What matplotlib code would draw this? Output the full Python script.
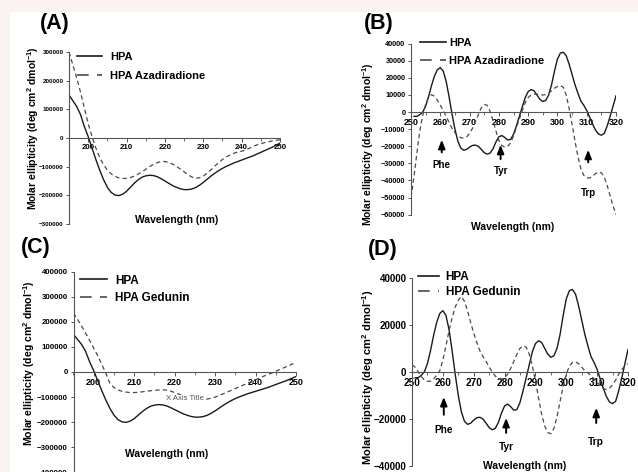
import numpy as np
import matplotlib
matplotlib.use("Agg")
import matplotlib.pyplot as plt
from matplotlib.lines import Line2D
from matplotlib.patches import Rectangle

plt.rcParams["font.family"] = ["Liberation Sans", "DejaVu Sans"]
plt.rcParams["font.weight"] = "bold"
plt.rcParams["mathtext.fontset"] = "custom"
plt.rcParams["mathtext.rm"] = "Liberation Sans:bold"
plt.rcParams["mathtext.bf"] = "Liberation Sans:bold"

W, H = 638, 472

# ---- far-UV CD (195-250 nm) ----
wl_far = list(range(195, 251))
hpa_far = [150000, 130000, 110000, 82000, 40000, 5000, -35000, -75000, -112000, -145000,
           -172000, -190000, -199000, -201000, -196000, -186000, -172000, -158000, -146000, -137000,
           -132000, -130000, -131000, -135000, -142000, -150000, -158000, -166000, -172000, -177000,
           -180000, -180000, -178000, -173000, -165000, -155000, -144000, -133000, -123000, -114000,
           -106000, -99000, -93000, -87000, -82000, -77000, -72000, -67000, -62000, -56000,
           -50000, -44000, -38000, -32000, -25000, -18000]
hpa_aza_far = [300000, 255000, 210000, 160000, 105000, 50000, 5000, -35000, -68000, -93000,
               -112000, -125000, -134000, -139000, -141000, -141000, -138000, -133000, -126000, -118000,
               -109000, -100000, -92000, -86000, -82000, -82000, -85000, -91000, -99000, -108000,
               -118000, -128000, -136000, -140000, -139000, -133000, -123000, -111000, -98000, -86000,
               -75000, -66000, -59000, -53000, -49000, -46000, -42000, -36000, -29000, -24000,
               -20000, -16000, -13000, -10000, -8000, -6000]
hpa_ged_far = [235000, 210000, 183000, 155000, 125000, 95000, 65000, 30000, -5000, -45000,
               -62000, -72000, -77000, -80000, -82000, -82000, -81000, -79000, -77000, -75000,
               -73000, -72000, -71000, -72000, -76000, -82000, -88000, -94000, -99000, -103000,
               -106000, -108000, -109000, -108000, -105000, -100000, -94000, -87000, -80000, -73000,
               -66000, -59000, -52000, -45000, -38000, -31000, -24000, -17000, -10000, -4000,
               3000, 10000, 17000, 24000, 31000, 37000]

# ---- near-UV CD (250-320 nm) ----
wl_near = list(range(250, 321))
hpa_near = [np.nan, -2500, -2500, -1500, 0, 3500, 9000, 15500, 21000, 24800,
            26000, 24000, 18000, 9000, -1000, -10000, -17000, -21000, -22300, -21800,
            -20500, -19500, -19300, -20000, -21800, -23700, -24600, -24000, -21500, -17500,
            -14500, -13700, -14800, -16300, -16000, -13000, -8000, -2500, 3000, 8500,
            12000, 13200, 12500, 10000, 7500, 6200, 6800, 10000, 16000, 24000,
            31000, 34500, 35000, 33000, 28000, 22000, 16000, 11000, 6500, 4000,
            1000, -3000, -7000, -10500, -12800, -13500, -12500, -8000, -2500, 3500,
            9500]
hpa_aza_near = [-50000, -38000, -24000, -11000, -2000, 4500, 8800, 10200, 9300, 7000,
                4000, 1000, -2500, -6000, -9500, -12000, -14000, -15000, -15200, -14500,
                -12500, -9500, -5500, -1500, 2500, 4500, 4000, 500, -5000, -11000,
                -16500, -19500, -20500, -20000, -18000, -14000, -9000, -4000, 1000, 5500,
                8500, 10000, 10500, 10500, 10200, 10000, 10200, 11000, 12500, 14000,
                15000, 15500, 14500, 10000, 2000, -7000, -17000, -26000, -33000, -37000,
                -38500, -38500, -37500, -36000, -35000, -35500, -38000, -43000, -49000, -55000,
                -60000]
hpa_ged_near = [3000, 2000, 0, -2000, -3500, -4000, -4000, -3000, -1500, 500,
                5000, 11000, 17500, 23000, 27500, 30500, 32000, 30000, 26000, 21000,
                16500, 12500, 9000, 6500, 4500, 2000, 0, -1800, -3000, -3200,
                -2500, -1000, 1500, 4500, 7500, 10000, 11000, 10500, 7500, 2500,
                -4000, -11000, -18000, -23000, -25800, -26300, -24000, -19000, -12500, -6000,
                -1000, 2500, 4000, 4300, 3500, 2000, 500, -500, -1500, -3000,
                -4500, -6000, -7200, -7500, -7000, -5500, -3500, -1000, 1000, 2500,
                3500]

# aromatic residue markers: (name, x, arrow tail y, arrow head y, label y)
marks_B = [("Phe", 260.5, -25200, -14600, -31000),
           ("Tyr", 280.6, -29100, -17500, -34400),
           ("Trp", 310.5, -31000, -20400, -47200)]
marks_D = [("Phe", 260.3, -19400, -9500, -24700),
           ("Tyr", 280.5, -27100, -18400, -32100),
           ("Trp", 309.7, -22900, -14100, -29700)]


def fx(x):
    return x / W


def fy(y):
    return 1 - y / H


fig = plt.figure(figsize=(W / 100, H / 100), dpi=100)
fig.patch.set_facecolor("#fbf2f2")
fig.patches.append(Rectangle((fx(10), 0), 1, fy(12), transform=fig.transFigure,
                             facecolor="white", edgecolor="none", zorder=-10))

SOLID = "#1a1a1a"
DASH = "#4a4a4a"
CURVE_DASH = (3.5, 2.5)


def panel(box, xlim, ylim, ystep, xtick_fs, ytick_fs):
    l, t, r, b = box
    ax = fig.add_axes([fx(l), fy(b), fx(r - l), (b - t) / H])
    ax.set_facecolor("none")
    ax.set_xlim(*xlim)
    ax.set_ylim(*ylim)
    for s in ("top", "right"):
        ax.spines[s].set_visible(False)
    ax.spines["bottom"].set_position(("data", 0))
    for s in ("left", "bottom"):
        ax.spines[s].set_color("#555555")
        ax.spines[s].set_linewidth(0.8)
    first = xlim[0] if xlim[0] % 10 == 0 else xlim[0] + 5
    ax.set_xticks(np.arange(first, xlim[1] + 1, 10))
    ax.set_xticks(np.arange(xlim[0], xlim[1] + 1, 5), minor=True)
    ax.set_yticks(np.arange(ylim[0], ylim[1] + 1, ystep))
    ax.tick_params(axis="x", which="major", labelsize=xtick_fs, length=3, width=0.7,
                   color="#555555", pad=1.5)
    ax.tick_params(axis="x", which="minor", length=2, width=0.6, color="#555555")
    ax.tick_params(axis="y", labelsize=ytick_fs, length=2.5, width=0.7, color="#555555", pad=1.5)
    for lab in ax.get_xticklabels() + ax.get_yticklabels():
        lab.set_fontweight("bold")
    return ax


def legend(ax, labels, left, top, fs, hl, htp, ls):
    handles = [Line2D([], [], color=SOLID, lw=1.2),
               Line2D([], [], color=DASH, lw=1.2, dashes=(7, 5))]
    ax.legend(handles, labels, loc="upper left", frameon=False, fontsize=fs,
              bbox_to_anchor=(fx(left), fy(top)), bbox_transform=fig.transFigure,
              borderpad=0, borderaxespad=0, handlelength=hl, handletextpad=htp,
              labelspacing=ls, prop={"weight": "bold", "size": fs})


def arrows(ax, marks, fs):
    for name, x, tail, head, ly in marks:
        ax.annotate("", xy=(x, head), xytext=(x, tail),
                    arrowprops=dict(arrowstyle="-|>,head_length=0.5,head_width=0.2",
                                    color="black", lw=1.4))
        ax.text(x, ly, name, ha="center", va="center", fontsize=fs, fontweight="bold")


ylab = "Molar ellipticity (deg cm$^{2}$ dmol$^{-1}$)"

# (A) far-UV, azadiradione
axA = panel((69, 52, 280, 224), (195, 250), (-300000, 300000), 100000, 5.7, 4.5)
axA.plot(wl_far, hpa_far, color=SOLID, lw=1.0)
axA.plot(wl_far, hpa_aza_far, color=DASH, lw=0.9, dashes=CURVE_DASH)
legend(axA, ["HPA", "HPA Azadiradione"], 77, 52, 8, 2.25, 0.7, 0.8)

# (B) near-UV, azadiradione
axB = panel((411, 43.7, 616, 214.7), (250, 320), (-60000, 40000), 10000, 6.5, 5.2)
axB.plot(wl_near, hpa_near, color=SOLID, lw=1.0)
axB.plot(wl_near, hpa_aza_near, color=DASH, lw=0.9, dashes=CURVE_DASH)
legend(axB, ["HPA", "HPA Azadiradione"], 420, 38, 8, 2.35, 0.27, 0.7)
arrows(axB, marks_B, 7)

# (C) far-UV, gedunin
axC = panel((73.5, 271.7, 296, 472.3), (195, 250), (-400000, 400000), 100000, 6.5, 5.7)
axC.plot(wl_far, hpa_far, color=SOLID, lw=1.0)
axC.plot(wl_far, hpa_ged_far, color=DASH, lw=0.9, dashes=CURVE_DASH)
legend(axC, ["HPA", "HPA Gedunin"], 80, 274.5, 8.5, 2.3, 0.68, 0.45)
axC.text(fx(185), fy(399), "X Axis Title", transform=fig.transFigure, ha="center", va="center",
         fontsize=5.5, fontweight="normal", color="#555555",
         bbox=dict(facecolor="white", edgecolor="none", pad=0.3))

# (D) near-UV, gedunin
axD = panel((412, 277.7, 628, 466), (250, 320), (-40000, 40000), 20000, 7.2, 7)
axD.plot(wl_near, hpa_near, color=SOLID, lw=1.0)
axD.plot(wl_near, hpa_ged_near, color=DASH, lw=0.9, dashes=CURVE_DASH)
legend(axD, ["HPA", "HPA Gedunin"], 418, 271, 8.5, 1.75, 0.6, 0.25)
arrows(axD, marks_D, 7.3)

# panel letters, axis titles
for tag, (x, y) in zip("ABCD", [(55, 24), (379, 24), (36, 248), (383, 249)]):
    fig.text(fx(x), fy(y), f"({tag})", ha="center", va="center", fontsize=15.5, fontweight="bold")
for (x, y), fs in zip([(33, 128), (368, 144), (29, 363), (368, 377)], [7.5, 7.5, 7.6, 8]):
    fig.text(fx(x), fy(y), ylab, rotation=90, ha="center", va="center", fontsize=fs,
             fontweight="bold")
for x, y in [(177, 220), (513, 227), (167, 454), (525, 466)]:
    fig.text(fx(x), fy(y), "Wavelength (nm)", ha="center", va="center", fontsize=7.5,
             fontweight="bold")

fig.savefig("out.png", dpi=100, facecolor=fig.get_facecolor())
